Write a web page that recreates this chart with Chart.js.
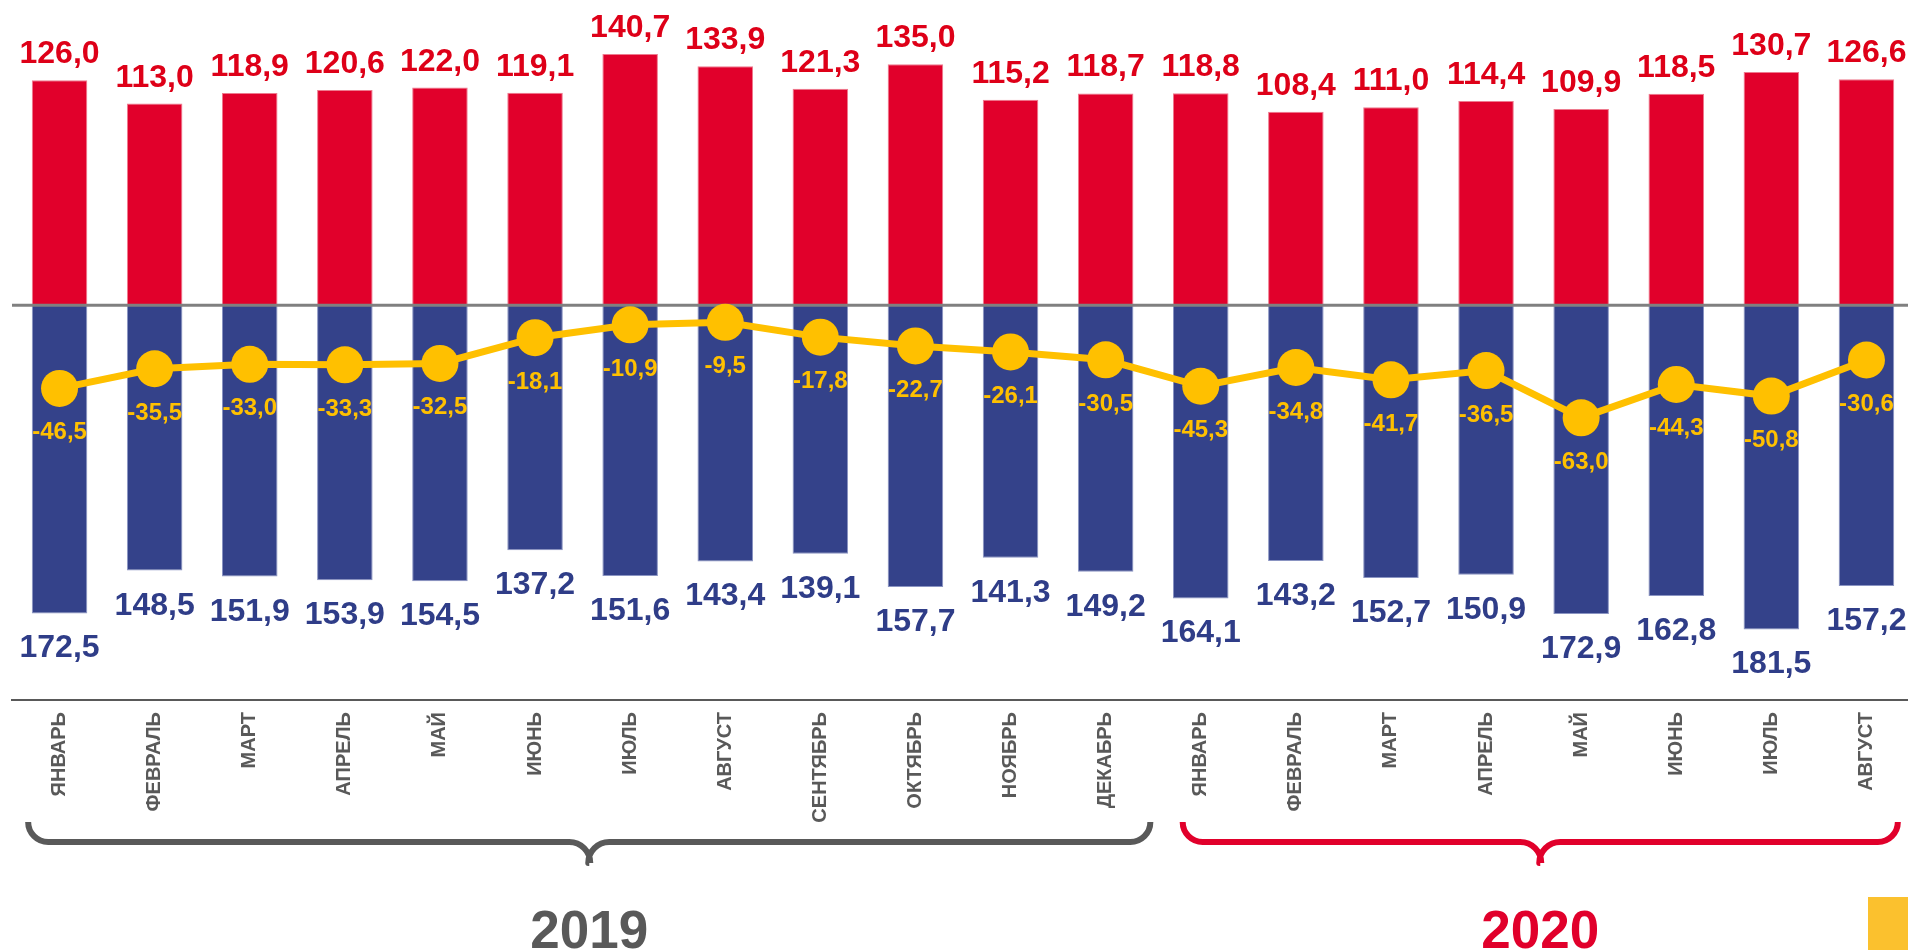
<!DOCTYPE html>
<html>
<head>
<meta charset="utf-8">
<script src="https://cdn.jsdelivr.net/npm/chart.js@4.4.1/dist/chart.umd.min.js"></script>
<style>
  html, body { margin: 0; padding: 0; background: #ffffff; overflow: hidden; }
  #wrap { position: relative; width: 1914px; height: 950px; }
  #corner { position: absolute; left: 1868px; top: 897px; width: 40px; height: 53px; background: #FBC12E; }
</style>
</head>
<body>
<div id="wrap"><canvas id="c"></canvas></div>
<div id="corner"></div>
<script>
// ---- data ----
const months = ['ЯНВАРЬ','ФЕВРАЛЬ','МАРТ','АПРЕЛЬ','МАЙ','ИЮНЬ','ИЮЛЬ','АВГУСТ','СЕНТЯБРЬ','ОКТЯБРЬ','НОЯБРЬ','ДЕКАБРЬ',
                'ЯНВАРЬ','ФЕВРАЛЬ','МАРТ','АПРЕЛЬ','МАЙ','ИЮНЬ','ИЮЛЬ','АВГУСТ'];
const exportsVals = [126.0,113.0,118.9,120.6,122.0,119.1,140.7,133.9,121.3,135.0,115.2,118.7,
                     118.8,108.4,111.0,114.4,109.9,118.5,130.7,126.6];
const importsVals = [172.5,148.5,151.9,153.9,154.5,137.2,151.6,143.4,139.1,157.7,141.3,149.2,
                     164.1,143.2,152.7,150.9,172.9,162.8,181.5,157.2];
const balanceVals = [-46.5,-35.5,-33.0,-33.3,-32.5,-18.1,-10.9,-9.5,-17.8,-22.7,-26.1,-30.5,
                     -45.3,-34.8,-41.7,-36.5,-63.0,-44.3,-50.8,-30.6];
const years = [
  { label: '2019', from: 0,  to: 11 },
  { label: '2020', from: 12, to: 19 }
];

// ---- styles ----
const FONT = "'Liberation Sans', Arial, Helvetica, sans-serif";
const RED = '#E1002B', RED_TXT = '#DE0018';
const BLUE = '#34428A', BLUE_TXT = '#2F3D88';
const YEL = '#FFC000';
const GRAY = '#595959';
const yearStyle = [
  { color: GRAY, padL: 0.33, padR: 0.47 },
  { color: RED,  padL: 0.19, padR: 0.33 }
];

const fmt = v => Math.abs(v).toFixed(1).replace('.', ',');

const zeroLine = {
  id: 'zeroLine',
  beforeDatasetDraw(chart, args) {
    if (args.index !== 2) return;
    const { ctx, chartArea } = chart;
    const y = chart.scales.y.getPixelForValue(0);
    ctx.save();
    ctx.strokeStyle = '#808080';
    ctx.lineWidth = 3;
    ctx.beginPath();
    ctx.moveTo(chartArea.left, y);
    ctx.lineTo(chartArea.right, y);
    ctx.stroke();
    ctx.restore();
  }
};

const valueLabels = {
  id: 'valueLabels',
  afterDatasetsDraw(chart) {
    const { ctx } = chart;
    ctx.save();
    ctx.textAlign = 'center';
    ctx.textBaseline = 'alphabetic';
    // exports above red bars
    ctx.font = 'bold 32px ' + FONT;
    ctx.fillStyle = RED_TXT;
    chart.getDatasetMeta(0).data.forEach((el, i) => {
      ctx.fillText(fmt(exportsVals[i]), el.x, el.y - 17);
    });
    // imports below blue bars
    ctx.fillStyle = BLUE_TXT;
    chart.getDatasetMeta(1).data.forEach((el, i) => {
      ctx.fillText(fmt(importsVals[i]), el.x, el.y + 44);
    });
    // balance below points
    ctx.font = 'bold 24px ' + FONT;
    ctx.fillStyle = YEL;
    chart.getDatasetMeta(2).data.forEach((el, i) => {
      ctx.fillText('-' + fmt(balanceVals[i]), el.x, el.y + 51);
    });
    ctx.restore();
  }
};

const braces = {
  id: 'braces',
  afterDraw(chart) {
    const { ctx, chartArea } = chart;
    const xs = chart.scales.x;
    const step = xs.getPixelForValue(1) - xs.getPixelForValue(0);
    const yTop = chartArea.bottom + 122, yH = chartArea.bottom + 142, yTip = chartArea.bottom + 163;
    const r = 20;
    years.forEach((yr, k) => {
      const st = yearStyle[k];
      const L = xs.getPixelForValue(yr.from) - st.padL * step;
      const R = xs.getPixelForValue(yr.to) + st.padR * step;
      const M = (L + R) / 2;
      ctx.save();
      ctx.strokeStyle = st.color;
      ctx.lineWidth = 6;
      ctx.lineCap = 'butt';
      ctx.lineJoin = 'round';
      ctx.beginPath();
      ctx.moveTo(L, yTop);
      ctx.arc(L + r, yTop, r, Math.PI, Math.PI / 2, true);
      ctx.lineTo(M - r, yH);
      ctx.arc(M - r, yH + r + 1, r + 1, -Math.PI / 2, 0, false);
      ctx.moveTo(M, yTip);
      ctx.arc(M + r, yH + r + 1, r + 1, Math.PI, -Math.PI / 2, false);
      ctx.lineTo(R - r, yH);
      ctx.arc(R - r, yTop, r, Math.PI / 2, 0, true);
      ctx.stroke();
      ctx.fillStyle = st.color;
      ctx.font = 'bold 53px ' + FONT;
      ctx.textAlign = 'center';
      ctx.textBaseline = 'alphabetic';
      ctx.fillText(yr.label, M, chartArea.bottom + 248);
      ctx.restore();
    });
  }
};

new Chart(document.getElementById('c'), {
  data: {
    labels: months,
    datasets: [
      {
        type: 'bar', label: 'Экспорт', data: exportsVals, order: 1,
        backgroundColor: RED, borderColor: '#EE7A8E', borderWidth: 1,
        barPercentage: 0.584, categoryPercentage: 1
      },
      {
        type: 'bar', label: 'Импорт', data: importsVals.map(v => -v), order: 2,
        backgroundColor: BLUE, borderColor: '#8A94C2', borderWidth: 1,
        barPercentage: 0.584, categoryPercentage: 1
      },
      {
        type: 'line', label: 'Сальдо', data: balanceVals, order: 0,
        borderColor: YEL, borderWidth: 7, tension: 0,
        pointRadius: 18.5, pointBackgroundColor: YEL, pointBorderWidth: 0,
        pointHoverRadius: 18.5
      }
    ]
  },
  options: {
    responsive: true,
    maintainAspectRatio: false,
    animation: false,
    layout: { autoPadding: false, padding: { left: 12, right: 0, top: 0, bottom: 0 } },
    plugins: { legend: { display: false }, tooltip: { enabled: false } },
    scales: {
      x: {
        stacked: true,
        grid: { display: false, drawTicks: false },
        border: { display: true, color: GRAY, width: 2 },
        ticks: {
          autoSkip: false, minRotation: 90, maxRotation: 90, padding: 12,
          color: GRAY, font: { family: FONT, size: 20, weight: 'bold' }
        },
        afterFit(scale) { scale.height = 250; }
      },
      y: {
        display: false, stacked: true,
        min: -221, max: 171
      }
    }
  },
  plugins: [zeroLine, valueLabels, braces]
});
</script>
</body>
</html>
